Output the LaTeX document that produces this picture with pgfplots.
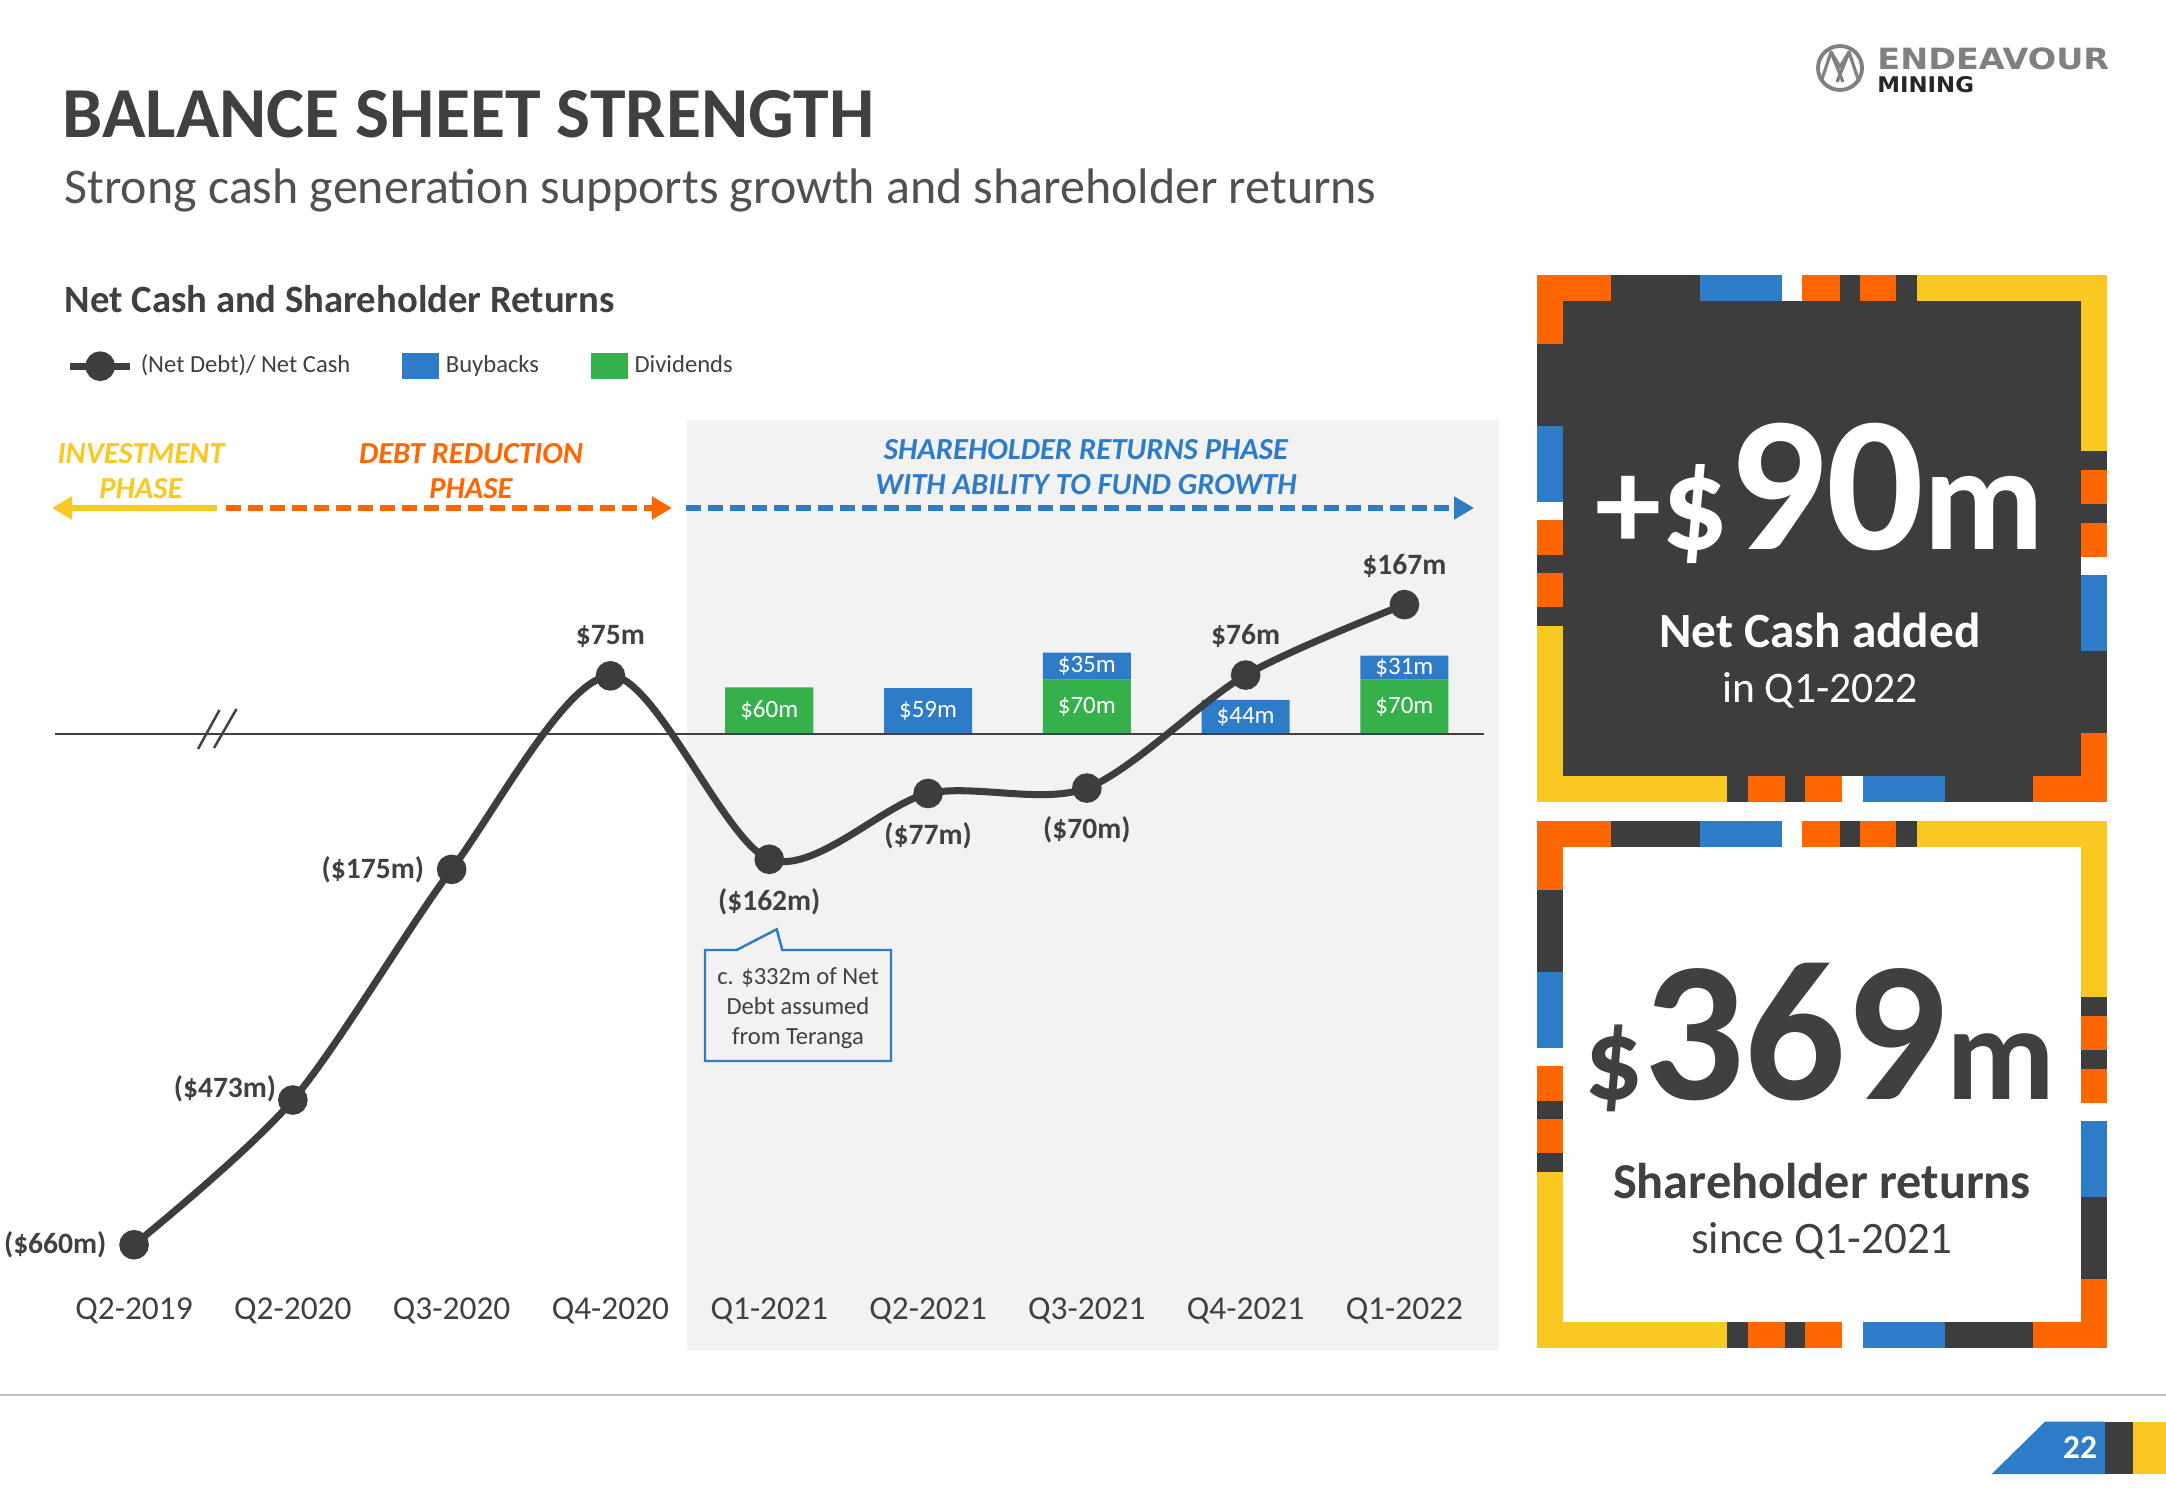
\documentclass[border=0pt]{standalone}
\usepackage{fontspec}
\setmainfont{Carlito}
\newfontfamily\logofont{DejaVu Sans}
\usepackage{graphicx}
\usepackage{pgfplots}
\pgfplotsset{compat=1.18}
\usetikzlibrary{arrows.meta}

\definecolor{cText}{HTML}{404040}
\definecolor{cSub}{HTML}{505050}
\definecolor{cDark}{HTML}{3D3D3D}
\definecolor{cLine}{HTML}{3D3D3D}
\definecolor{cOr}{HTML}{FF6600}
\definecolor{cYel}{HTML}{F9C823}
\definecolor{cBlue}{HTML}{2E7BC8}
\definecolor{cGreen}{HTML}{36B04A}
\definecolor{cBg}{HTML}{F2F2F2}
\definecolor{cLogo}{HTML}{808080}

\newcommand\fsz[1]{\fontsize{#1pt}{#1pt}\selectfont}

% coloured frame of a KPI panel, top edge at y=#1 (pixels), inner fill #2
\newcommand\kpipanel[2]{%
  \begin{scope}[shift={(1537,#1)}]
    \fill[cDark] (0,0) rectangle (570,527);
    \fill[#2] (26,26) rectangle (544,501);
    % top
    \fill[cOr] (0,0) rectangle (74,26);
    \fill[cBlue] (163,0) rectangle (245,26);
    \fill[white] (245,0) rectangle (265,26);
    \fill[cOr] (265,0) rectangle (303,26);
    \fill[cOr] (323,0) rectangle (359,26);
    \fill[cYel] (380,0) rectangle (570,26);
    % left
    \fill[cOr] (0,0) rectangle (26,69);
    \fill[cBlue] (0,151) rectangle (26,227);
    \fill[white] (0,227) rectangle (26,245);
    \fill[cOr] (0,245) rectangle (26,280);
    \fill[cOr] (0,298) rectangle (26,332);
    \fill[cYel] (0,351) rectangle (26,527);
    % right
    \fill[cYel] (544,0) rectangle (570,176);
    \fill[cOr] (544,195) rectangle (570,229);
    \fill[cOr] (544,248) rectangle (570,282);
    \fill[white] (544,282) rectangle (570,300);
    \fill[cBlue] (544,300) rectangle (570,376);
    \fill[cOr] (544,458) rectangle (570,527);
    % bottom
    \fill[cYel] (0,501) rectangle (190,527);
    \fill[cOr] (211,501) rectangle (248,527);
    \fill[cOr] (268,501) rectangle (305,527);
    \fill[white] (305,501) rectangle (326,527);
    \fill[cBlue] (326,501) rectangle (408,527);
    \fill[cOr] (496,501) rectangle (570,527);
  \end{scope}}

\pgfplotsset{
  base/.style={
    at={(0.5465cm,-13.07cm)}, anchor=south west,
    x=1.587cm, y=0.007735cm,
    xmin=-0.5, xmax=8.5, ymin=-741.4, ymax=250,
    axis line style={draw=none}, major tick length=0pt,
    ytick=\empty, clip=false},
  lbl/.style={forget plot, draw=none, mark=none, nodes near coords,
    point meta=explicit symbolic,
    nodes near coords style={font=\fsz{8.4}\bfseries, text=cText, anchor=center, inner sep=0pt}},
}

\begin{document}
\begin{tikzpicture}[x=0.01cm, y=-0.01cm]
\fill[white] (0,0) rectangle (2166,1500);
\useasboundingbox (0,0) rectangle (2166,1500);

% titles
\node[anchor=base west, inner sep=0, text=cText, font=\fsz{20.4}\bfseries] at (62,138) {BALANCE SHEET STRENGTH};
\node[anchor=base west, inner sep=0, text=cSub, font=\fsz{14.2}] at (64,204) {Strong cash generation supports growth and shareholder returns};
\node[anchor=base west, inner sep=0, text=cText, font=\fsz{11}\bfseries] at (64,313) {Net Cash and Shareholder Returns};

% shareholder returns phase background
\fill[cBg] (686.5,420) rectangle (1499,1350);

% phase arrows and labels
\draw[cYel, line width=1.7pt, -{Triangle[length=0.2cm, width=0.22cm]}] (217,508) -- (52,508);
\draw[cOr, line width=1.7pt, dash pattern=on 0.15cm off 0.07cm, -{Triangle[length=0.2cm, width=0.22cm]}] (226,508) -- (672,508);
\draw[cBlue, line width=1.7pt, dash pattern=on 0.15cm off 0.07cm, -{Triangle[length=0.2cm, width=0.22cm]}] (686,508) -- (1474,508);
\begin{scope}[every node/.style={anchor=base, inner sep=0, font=\fsz{8.7}\bfseries\itshape}]
\node[text=cYel] at (141,463) {INVESTMENT};
\node[text=cYel] at (141,498) {PHASE};
\node[text=cOr] at (471,463) {DEBT REDUCTION};
\node[text=cOr] at (471,498) {PHASE};
\node[text=cBlue] at (1086,459) {SHAREHOLDER RETURNS PHASE};
\node[text=cBlue] at (1086,494) {WITH ABILITY TO FUND GROWTH};
\end{scope}

% bars: dividends and buybacks
\begin{axis}[base, xtick=\empty, ybar stacked, bar width=0.88cm]
\draw[cText, line width=0.6pt] (axis cs:-0.5,0) -- (axis cs:8.5,0);
\addplot[fill=cGreen, draw=none] coordinates {(4,60) (5,0) (6,70) (7,0) (8,70)};
\addplot[fill=cBlue, draw=none] coordinates {(4,0) (5,59) (6,35) (7,44) (8,31)};
\end{axis}

% axis break mark
\draw[cText, line width=0.7pt] (198,749) -- (219.5,710);
\draw[cText, line width=0.7pt] (214,748) -- (236.5,709);

% net debt / net cash line
\begin{axis}[base, xtick={0,...,8},
  xticklabels={Q2-2019,Q2-2020,Q3-2020,Q4-2020,Q1-2021,Q2-2021,Q3-2021,Q4-2021,Q1-2022},
  xticklabel style={font=\fsz{9.5}, text=cText, anchor=base, yshift=-0.12cm},
  legend style={at={(axis description cs:0.0079,1.227)}, anchor=west, draw=none, fill=none,
    legend columns=3, font=\fsz{7}, text=cText, inner sep=0pt,
    /tikz/every even column/.append style={column sep=0.45cm}},
  legend cell align=left]
\addplot[cLine, line width=2pt, smooth, mark=*, mark size=3.2pt]
  coordinates {(0,-660) (1,-473) (2,-175) (3,75) (4,-162) (5,-77) (6,-70) (7,76) (8,167)};
\addlegendimage{legend image code/.code={\fill[cBlue] (0cm,-0.125cm) rectangle (0.35cm,0.125cm);}}
\addlegendimage{legend image code/.code={\fill[cGreen] (0cm,-0.125cm) rectangle (0.35cm,0.125cm);}}
\legend{(Net Debt)/ Net Cash, Buybacks, Dividends}
\addplot[lbl, nodes near coords style={yshift=0.39cm}]
  coordinates {(3,75)[\$75m] (7,76)[\$76m] (8,167)[\$167m]};
\addplot[lbl, nodes near coords style={yshift=-0.42cm}]
  coordinates {(4,-162)[(\$162m)] (5,-77)[(\$77m)] (6,-70)[(\$70m)]};
\addplot[lbl, nodes near coords style={anchor=east, xshift=-0.27cm}]
  coordinates {(0,-660)[(\$660m)] (2,-175)[(\$175m)]};
\addplot[lbl, nodes near coords style={anchor=east, xshift=-0.16cm, yshift=0.115cm}]
  coordinates {(1,-473)[(\$473m)]};
\addplot[forget plot, draw=none, mark=none, nodes near coords, point meta=explicit symbolic,
  nodes near coords style={font=\fsz{7.1}, text=white, anchor=center}]
  coordinates {(4,30)[\$60m] (5,29.5)[\$59m] (6,35)[\$70m] (6,87.5)[\$35m] (7,22)[\$44m] (8,35)[\$70m] (8,85.5)[\$31m]};
\end{axis}

% callout
\draw[cBlue, line width=0.7pt, fill=cBg] (705,950) -- (736.7,950) -- (776.7,929.3) -- (782.3,950) -- (891,950) -- (891,1061) -- (705,1061) -- cycle;
\begin{scope}[every node/.style={anchor=base, inner sep=0, font=\fsz{7}, text=cText}]
\node at (798,984) {c. \$332m of Net};
\node at (798,1014) {Debt assumed};
\node at (798,1044) {from Teranga};
\end{scope}

% KPI panels
\kpipanel{275}{cDark}
\kpipanel{821}{white}
\node[anchor=base, inner sep=0, text=white, font=\bfseries] at (1820,549) {\fsz{37.6}+\$\fsz{54.8}90\fsz{42.2}m};
\node[anchor=base, inner sep=0, text=white, font=\fsz{14}\bfseries] at (1820,647.5) {Net Cash added};
\node[anchor=base, inner sep=0, text=white, font=\fsz{12.4}] at (1820,702) {in Q1-2022};
\node[anchor=base, inner sep=0, text=cText, font=\bfseries] at (1820,1099) {\fsz{33}\$\fsz{56.8}369\fsz{38}m};
\node[anchor=base, inner sep=0, text=cText, font=\fsz{14.3}\bfseries] at (1822,1198.6) {Shareholder returns};
\node[anchor=base, inner sep=0, text=cText, font=\fsz{12.8}] at (1822,1253) {since Q1-2021};

% logo
\draw[cLogo, line width=1.1pt] (1840,68) circle (22);
\draw[cLogo, line width=0.9pt, line join=round] (1821,82) -- (1831,52) -- (1840,67) -- (1849,52) -- (1859,82);
\draw[cLogo, line width=0.9pt] (1831,52) -- (1843,82) (1849,52) -- (1837,82);
\node[anchor=base west, inner sep=0, text=cLogo] at (1876.7,70) {\resizebox{2.316cm}{0.217cm}{\logofont\bfseries ENDEAVOUR}};
\node[anchor=base west, inner sep=0, text=black!85] at (1876.7,92.7) {\resizebox{0.966cm}{0.16cm}{\logofont\bfseries MINING}};

% footer
\draw[black!25, line width=0.6pt] (0,1395) -- (2166,1395);
\fill[cBlue] (2045,1421.7) -- (2105,1421.7) -- (2105,1474) -- (1991.7,1474) -- cycle;
\fill[cDark] (2105,1421.7) rectangle (2133,1474);
\fill[cYel] (2133,1421.7) rectangle (2166,1474);
\node[anchor=base, inner sep=0, text=white, font=\fsz{9.5}\bfseries] at (2080,1458) {22};
\end{tikzpicture}
\end{document}
